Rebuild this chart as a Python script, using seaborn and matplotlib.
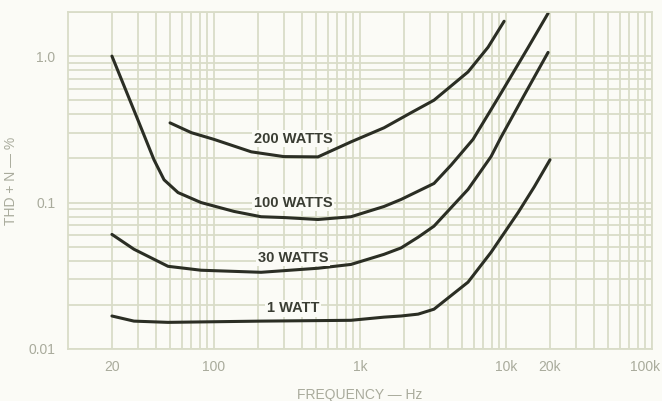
import numpy as np
import pandas as pd
import matplotlib
matplotlib.use("Agg")
import matplotlib.pyplot as plt
import matplotlib.transforms as mtransforms
import seaborn as sns
from matplotlib.ticker import FixedLocator, NullFormatter, LogLocator

# THD + N readings (percent) against frequency (Hz)
freq_200 = [50, 70, 100, 180, 300, 515, 870, 1460, 2230, 3210, 5490, 7530, 9700]
thd_200 = [0.35, 0.30, 0.27, 0.222, 0.206, 0.205, 0.26, 0.324, 0.41, 0.50, 0.78, 1.15, 1.73]

freq_100 = [20, 30, 38.8, 45.5, 56.7, 81.5, 137, 210, 301, 515, 867, 1460, 1910,
            3210, 4200, 5940, 9250, 14200, 19400]
thd_100 = [1.0, 0.37, 0.196, 0.143, 0.117, 0.10, 0.087, 0.080, 0.079, 0.0766, 0.080,
           0.094, 0.105, 0.135, 0.18, 0.27, 0.56, 1.15, 1.96]

freq_30 = [20, 28.3, 48.4, 81.5, 210, 515, 867, 1460, 1910, 2500, 3210, 5490, 7890,
           9250, 13300, 19400]
thd_30 = [0.0606, 0.048, 0.0367, 0.0345, 0.0334, 0.0356, 0.0378, 0.0443, 0.049, 0.058,
          0.069, 0.123, 0.206, 0.28, 0.54, 1.06]

freq_1 = [20, 28.3, 48.4, 210, 867, 1460, 1910, 2500, 3210, 5490, 7890, 12100, 15600, 20000]
thd_1 = [0.0168, 0.0155, 0.0152, 0.0155, 0.0157, 0.0165, 0.0168, 0.0173, 0.0187, 0.0286,
         0.0457, 0.0855, 0.128, 0.196]

series_names = ["200 WATTS", "100 WATTS", "30 WATTS", "1 WATT"]
label_freq = [348, 348, 348, 348]
label_thd = [0.272, 0.10, 0.042, 0.019]

x_ticks = [20, 100, 1000, 10000, 20000, 100000]
x_tick_labels = ["20", "100", "1k", "10k", "20k", "100k"]
y_ticks = [0.01, 0.1, 1.0]
y_tick_labels = ["0.01", "0.1", "1.0"]

frames = []
for name, f, t in zip(series_names,
                      [freq_200, freq_100, freq_30, freq_1],
                      [thd_200, thd_100, thd_30, thd_1]):
    frames.append(pd.DataFrame({"freq": f, "thd": t, "series": name}))
df = pd.concat(frames, ignore_index=True)

paper = "#fbfbf6"
grid_col = "#d9dcc8"
ink = "#2b2e24"
faint = "#a9ab9c"

sns.set_style("white")
plt.rcParams["font.family"] = ["Liberation Sans", "DejaVu Sans"]

fig = plt.figure(figsize=(6.62, 4.01), dpi=100, facecolor=paper)
ax = fig.add_axes([0.1027, 0.1297, 0.8823, 0.8403])
ax.set_facecolor(paper)

ax.set_xscale("log")
ax.set_yscale("log")
ax.set_xlim(10, 100000)
ax.set_ylim(0.01, 2.0)

sns.lineplot(data=df, x="freq", y="thd", hue="series", units="series",
             estimator=None, sort=False, legend=False,
             palette={n: ink for n in series_names}, linewidth=2.2, ax=ax)

# log grid, major and minor
ax.xaxis.set_major_locator(FixedLocator(x_ticks))
ax.set_xticklabels(x_tick_labels)
ax.xaxis.set_minor_locator(LogLocator(base=10, subs=np.arange(2, 10)))
ax.xaxis.set_minor_formatter(NullFormatter())
ax.yaxis.set_major_locator(FixedLocator(y_ticks))
ax.set_yticklabels(y_tick_labels)
ax.yaxis.set_minor_locator(LogLocator(base=10, subs=np.arange(2, 10)))
ax.yaxis.set_minor_formatter(NullFormatter())
ax.grid(which="both", color=grid_col, linewidth=1.3)
ax.set_axisbelow(True)
ax.tick_params(which="both", length=0, colors=faint, labelsize=10)
ax.tick_params(axis="x", pad=8)
ax.tick_params(axis="y", pad=9)
for s in ax.spines.values():
    s.set_color(grid_col)
    s.set_linewidth(1.3)

# last x label sits against the right edge
last = ax.get_xticklabels()[-1]
last.set_horizontalalignment("right")
last.set_transform(last.get_transform() + mtransforms.ScaledTranslation(8 / 100, 0, fig.dpi_scale_trans))

ax.set_xlabel("FREQUENCY — Hz", color=faint, fontsize=10, labelpad=10)
ax.set_ylabel("THD + N — %", color=faint, fontsize=10)
ax.yaxis.set_label_coords(-0.085, 0.5)

for name, lf, lt in zip(series_names, label_freq, label_thd):
    ax.text(lf, lt, name, ha="center", va="center", fontsize=10.5, fontweight="bold",
            color="#3a3d33", bbox=dict(facecolor=paper, edgecolor="none", pad=1.0))

fig.savefig("out.png", dpi=100, facecolor=paper)
